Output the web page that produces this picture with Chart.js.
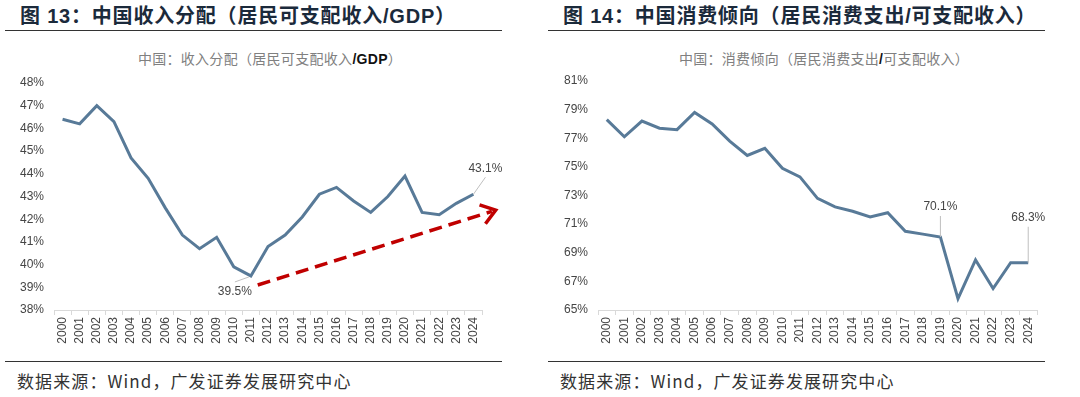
<!DOCTYPE html>
<html>
<head>
<meta charset="utf-8">
<script src="https://cdn.jsdelivr.net/npm/chart.js@4.4.1/dist/chart.umd.min.js"></script>
<style>
  body { margin: 0; background: #fff; width: 1080px; height: 397px; position: relative; overflow: hidden;
         font-family: "Liberation Sans", Arial, "Noto Sans CJK SC", sans-serif; }
  .hdr { position: absolute; top: 0; height: 31px; border-bottom: 1.5px solid #333; color: #1b2a3b;
         font: bold 20px "Liberation Sans", Arial, "Noto Sans CJK SC", sans-serif; line-height: 33px;
         letter-spacing: 0.8px; padding-left: 15px; box-sizing: border-box; white-space: nowrap; }
  .ttl { position: absolute; top: 49px; font-size: 14px; line-height: 18px; color: #808080; letter-spacing: 0.3px;
         text-align: center; white-space: nowrap; font-family: "Noto Sans CJK SC", sans-serif; }
  .ttl b { color: #111; font-family: "Liberation Sans", Arial, sans-serif; }
  .ftr { position: absolute; top: 361px; border-top: 1.5px solid #333; padding-left: 12px;
         font-size: 17px; line-height: 38px; color: #333; box-sizing: border-box; white-space: nowrap;
         letter-spacing: 1.1px; font-family: "Noto Sans CJK SC", sans-serif; }
  canvas { position: absolute; top: 36px; }
</style>
</head>
<body>
<div class="hdr" style="left:5px;width:497px;">图 13：中国收入分配（居民可支配收入/GDP）</div>
<div class="hdr" style="left:548px;width:497px;">图 14：中国消费倾向（居民消费支出/可支配收入）</div>
<div class="ttl" style="left:120px;width:300px;">中国：收入分配（居民可支配收入<b>/GDP</b>）</div>
<div class="ttl" style="left:664px;width:320px;">中国：消费倾向（居民消费支出<b>/</b>可支配收入）</div>
<canvas id="incomeChart" width="540" height="322" style="left:0;"></canvas>
<canvas id="consumeChart" width="540" height="322" style="left:540px;"></canvas>
<div class="ftr" style="left:5px;width:497px;">数据来源：Wind，广发证券发展研究中心</div>
<div class="ftr" style="left:548px;width:497px;">数据来源：Wind，广发证券发展研究中心</div>

<script>
// Data
const years = ['2000', '2001', '2002', '2003', '2004', '2005', '2006', '2007', '2008', '2009',
  '2010', '2011', '2012', '2013', '2014', '2015', '2016', '2017', '2018', '2019',
  '2020', '2021', '2022', '2023', '2024'];

// 居民可支配收入/GDP (%)
const incomeShare = [46.4, 46.2, 47.0, 46.3, 44.7, 43.8, 42.5, 41.3, 40.7, 41.2,
  39.9, 39.5, 40.8, 41.3, 42.1, 43.1, 43.4, 42.8, 42.3, 43.0,
  43.9, 42.3, 42.2, 42.7, 43.1];

// 居民消费支出/可支配收入 (%)
const consumeRate = [78.3, 77.1, 78.2, 77.7, 77.6, 78.8, 78.0, 76.8, 75.8, 76.3,
  74.9, 74.3, 72.8, 72.2, 71.9, 71.5, 71.8, 70.5, 70.3, 70.1,
  65.8, 68.5, 66.5, 68.3, 68.3];

const incomeTicks = [38, 39, 40, 41, 42, 43, 44, 45, 46, 47, 48];
const consumeTicks = [65, 67, 69, 71, 73, 75, 77, 79, 81];

// trend arrow on the left chart, in data units: [category index, value]
const trendFrom = [11.4, 39.1];
const trendTo = [25.3, 42.4];

const LINE_COLOR = '#587a98';
const TEXT_COLOR = '#454545';
const AXIS_COLOR = '#d9d9d9';
const TICK_FONT = { family: '"Liberation Sans", Arial, sans-serif', size: 12 };

// labels with leader lines + optional dashed trend arrow
function makeOverlay(callouts, arrow) {
  return {
    id: 'overlay',
    afterDatasetsDraw(chart) {
      const { ctx, scales: { x, y } } = chart;
      const values = chart.data.datasets[0].data;
      ctx.save();

      if (arrow) {
        const x0 = x.getPixelForValue(arrow.from[0]), y0 = y.getPixelForValue(arrow.from[1]);
        const x1 = x.getPixelForValue(arrow.to[0]), y1 = y.getPixelForValue(arrow.to[1]);
        const ang = Math.atan2(y1 - y0, x1 - x0);
        ctx.strokeStyle = '#c00000';
        ctx.lineWidth = 3.5;
        ctx.setLineDash([13, 7]);
        ctx.beginPath();
        ctx.moveTo(x0, y0);
        ctx.lineTo(x1 - 4 * Math.cos(ang), y1 - 4 * Math.sin(ang));
        ctx.stroke();
        ctx.setLineDash([]);
        ctx.lineJoin = 'miter';
        const len = 17, spread = 0.62;
        ctx.beginPath();
        ctx.moveTo(x1 - len * Math.cos(ang - spread), y1 - len * Math.sin(ang - spread));
        ctx.lineTo(x1, y1);
        ctx.lineTo(x1 - len * Math.cos(ang + spread), y1 - len * Math.sin(ang + spread));
        ctx.stroke();
      }

      ctx.font = '12px "Liberation Sans", Arial, sans-serif';
      ctx.textAlign = 'center';
      ctx.textBaseline = 'middle';
      callouts.forEach(c => {
        const px = x.getPixelForValue(c.index);
        const py = y.getPixelForValue(values[c.index]);
        ctx.strokeStyle = '#bfbfbf';
        ctx.lineWidth = 1;
        ctx.beginPath();
        ctx.moveTo(px + c.from[0], py + c.from[1]);
        ctx.lineTo(px + c.lead[0], py + c.lead[1]);
        ctx.stroke();
        ctx.fillStyle = TEXT_COLOR;
        ctx.fillText(values[c.index].toFixed(1) + '%', px + c.label[0], py + c.label[1]);
      });
      ctx.restore();
    }
  };
}

function makeChart(id, values, ticks, layoutPad, yWidth, overlay) {
  return new Chart(document.getElementById(id), {
    type: 'line',
    data: {
      labels: years,
      datasets: [{
        data: values,
        borderColor: LINE_COLOR,
        borderWidth: 3,
        pointRadius: 0,
        tension: 0,
        fill: false
      }]
    },
    options: {
      responsive: false,
      animation: false,
      layout: { padding: layoutPad },
      plugins: { legend: { display: false }, tooltip: { enabled: false } },
      scales: {
        x: {
          offset: true,
          grid: { offset: true, drawOnChartArea: false, drawTicks: true, tickLength: 5, color: AXIS_COLOR },
          border: { display: true, color: AXIS_COLOR, width: 1 },
          ticks: { autoSkip: false, minRotation: 90, maxRotation: 90, padding: 2, color: TEXT_COLOR, font: TICK_FONT },
          afterFit: scale => { scale.height = 48; }
        },
        y: {
          min: ticks[0],
          max: ticks[ticks.length - 1],
          grid: { display: false, drawTicks: false },
          border: { display: false },
          afterBuildTicks: scale => { scale.ticks = ticks.map(v => ({ value: v })); },
          ticks: { padding: 10, color: TEXT_COLOR, font: TICK_FONT, callback: v => v + '%' },
          afterFit: scale => { scale.width = yWidth; }
        }
      }
    },
    plugins: [overlay]
  });
}

makeChart('incomeChart', incomeShare, incomeTicks, { top: 47, right: 58, bottom: 0, left: 0 }, 54,
  makeOverlay([
    { index: 11, from: [-2, 1], lead: [-16, 6], label: [-16, 16] },
    { index: 24, from: [0, 0], lead: [12, -17], label: [12, -26] }
  ], { from: trendFrom, to: trendTo }));

makeChart('consumeChart', consumeRate, consumeTicks, { top: 45, right: 43, bottom: 0, left: 0 }, 58,
  makeOverlay([
    { index: 19, from: [0, 0], lead: [0, -21], label: [0, -30] },
    { index: 24, from: [0, 0], lead: [0, -36], label: [0, -45] }
  ], null));
</script>
</body>
</html>
